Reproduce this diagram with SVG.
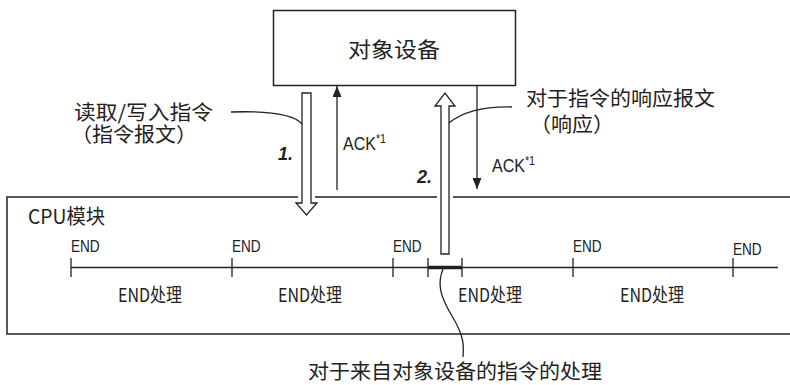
<svg xmlns="http://www.w3.org/2000/svg" width="790" height="385" viewBox="0 0 790 385">
  <style>
    .ln { fill: none; stroke: #222; stroke-width: 1.3; }
    .box { fill: #fff; stroke: #222; stroke-width: 1.5; }
    .cjk { font-family: "Noto Sans CJK SC", "Noto Sans", sans-serif; fill: #222; }
    .lat { font-family: "Liberation Sans", "Noto Sans", sans-serif; fill: #222; }
    .num { font-family: "Liberation Sans", sans-serif; font-weight: bold; font-style: italic; font-size: 18px; fill: #222; }
    .halo { fill: none; stroke: #fff; stroke-width: 8; }
    .hollow { fill: #fff; stroke: #222; stroke-width: 1.3; stroke-linejoin: miter; }
  </style>
  <defs>
    <marker id="head" viewBox="0 0 11 9" refX="11" refY="4.5" markerWidth="11" markerHeight="9" markerUnits="userSpaceOnUse" orient="auto">
      <path d="M0,0 L11,4.5 L0,9 Z" fill="#222"/>
    </marker>
  </defs>

  <!-- CPU module frame (extends past the right edge) -->
  <g id="cpu-module">
    <rect class="box" x="7" y="197" width="800" height="137"/>
    <text class="cjk" x="28" y="224" font-size="20" textLength="77" lengthAdjust="spacingAndGlyphs">CPU模块</text>
  </g>

  <!-- scan timeline -->
  <g id="timeline">
    <path class="ln" d="M71,267.5 H778"/>
    <path class="ln" d="M71,258 V277 M232,258 V277 M393,258 V277 M428,258 V277 M462,258 V277 M573,258 V277 M733,258 V277"/>
    <path d="M428,267.5 H462" stroke="#222" stroke-width="3.5"/>
    <g class="lat" font-size="17">
      <text transform="translate(71,252) scale(0.8,1)">END</text>
      <text transform="translate(232,252) scale(0.8,1)">END</text>
      <text transform="translate(393,252) scale(0.8,1)">END</text>
      <text transform="translate(573,252) scale(0.8,1)">END</text>
      <text transform="translate(733,255) scale(0.8,1)">END</text>
    </g>
    <g class="cjk" font-size="19">
      <text id="end-proc-1" x="118" y="302" textLength="64" lengthAdjust="spacingAndGlyphs">END处理</text>
      <text id="end-proc-2" x="278" y="302" textLength="64" lengthAdjust="spacingAndGlyphs">END处理</text>
      <text id="end-proc-3" x="458" y="302" textLength="64" lengthAdjust="spacingAndGlyphs">END处理</text>
      <text id="end-proc-4" x="620" y="302" textLength="64" lengthAdjust="spacingAndGlyphs">END处理</text>
    </g>
  </g>

  <!-- target device -->
  <g id="target-device">
    <rect class="box" x="273.5" y="10.5" width="242" height="75"/>
    <text class="cjk" x="348" y="57" font-size="21" textLength="92" lengthAdjust="spacingAndGlyphs">对象设备</text>
  </g>

  <g id="connectors">
    <!-- white clearance where the hollow arrows cross the frame -->
    <path class="halo" d="M302,93 H311 V203 H317 L306.5,215 L296,203 H302 Z"/>
    <path class="halo" d="M441,254 V106 H435 L445,93 L455,106 H449 V254 Z"/>

    <!-- 1. command: device to CPU -->
    <path class="hollow" d="M302,93 H311 V203 H317 L306.5,215 L296,203 H302 Z"/>
    <!-- 2. response: CPU to device -->
    <path class="hollow" d="M441,254 V106 H435 L445,93 L455,106 H449 V254 Z"/>

    <!-- ACK lines -->
    <path class="ln" d="M337,190 V86" marker-end="url(#head)"/>
    <path class="ln" d="M477,86 V189" marker-end="url(#head)"/>

    <!-- leader lines -->
    <path class="ln" d="M231,112 Q290,110 302,124"/>
    <path class="ln" d="M512,107 Q470,106 449,123"/>
    <path class="ln" d="M443,269 C437,284 440,296 452,316 S464,345 463,357"/>
  </g>

  <g id="labels">
    <text class="num" x="278" y="160">1.</text>
    <text class="num" x="417" y="183">2.</text>

    <text class="lat" font-size="18" transform="translate(343,150) scale(0.89,1)">ACK<tspan font-size="12" dy="-7">*1</tspan></text>
    <text class="lat" font-size="18" transform="translate(492,172) scale(0.89,1)">ACK<tspan font-size="12" dy="-7">*1</tspan></text>

    <text class="cjk" x="74" y="120" font-size="20" textLength="139" lengthAdjust="spacingAndGlyphs">读取/写入指令</text>
    <text class="cjk" x="71" y="142" font-size="20" textLength="126" lengthAdjust="spacingAndGlyphs">（指令报文）</text>

    <text class="cjk" x="526" y="106" font-size="20.5" textLength="189" lengthAdjust="spacingAndGlyphs">对于指令的响应报文</text>
    <text class="cjk" x="530" y="132" font-size="20.5" textLength="84" lengthAdjust="spacingAndGlyphs">（响应）</text>

    <text class="cjk" x="308" y="379" font-size="20.5" textLength="294" lengthAdjust="spacingAndGlyphs">对于来自对象设备的指令的处理</text>
  </g>
</svg>
